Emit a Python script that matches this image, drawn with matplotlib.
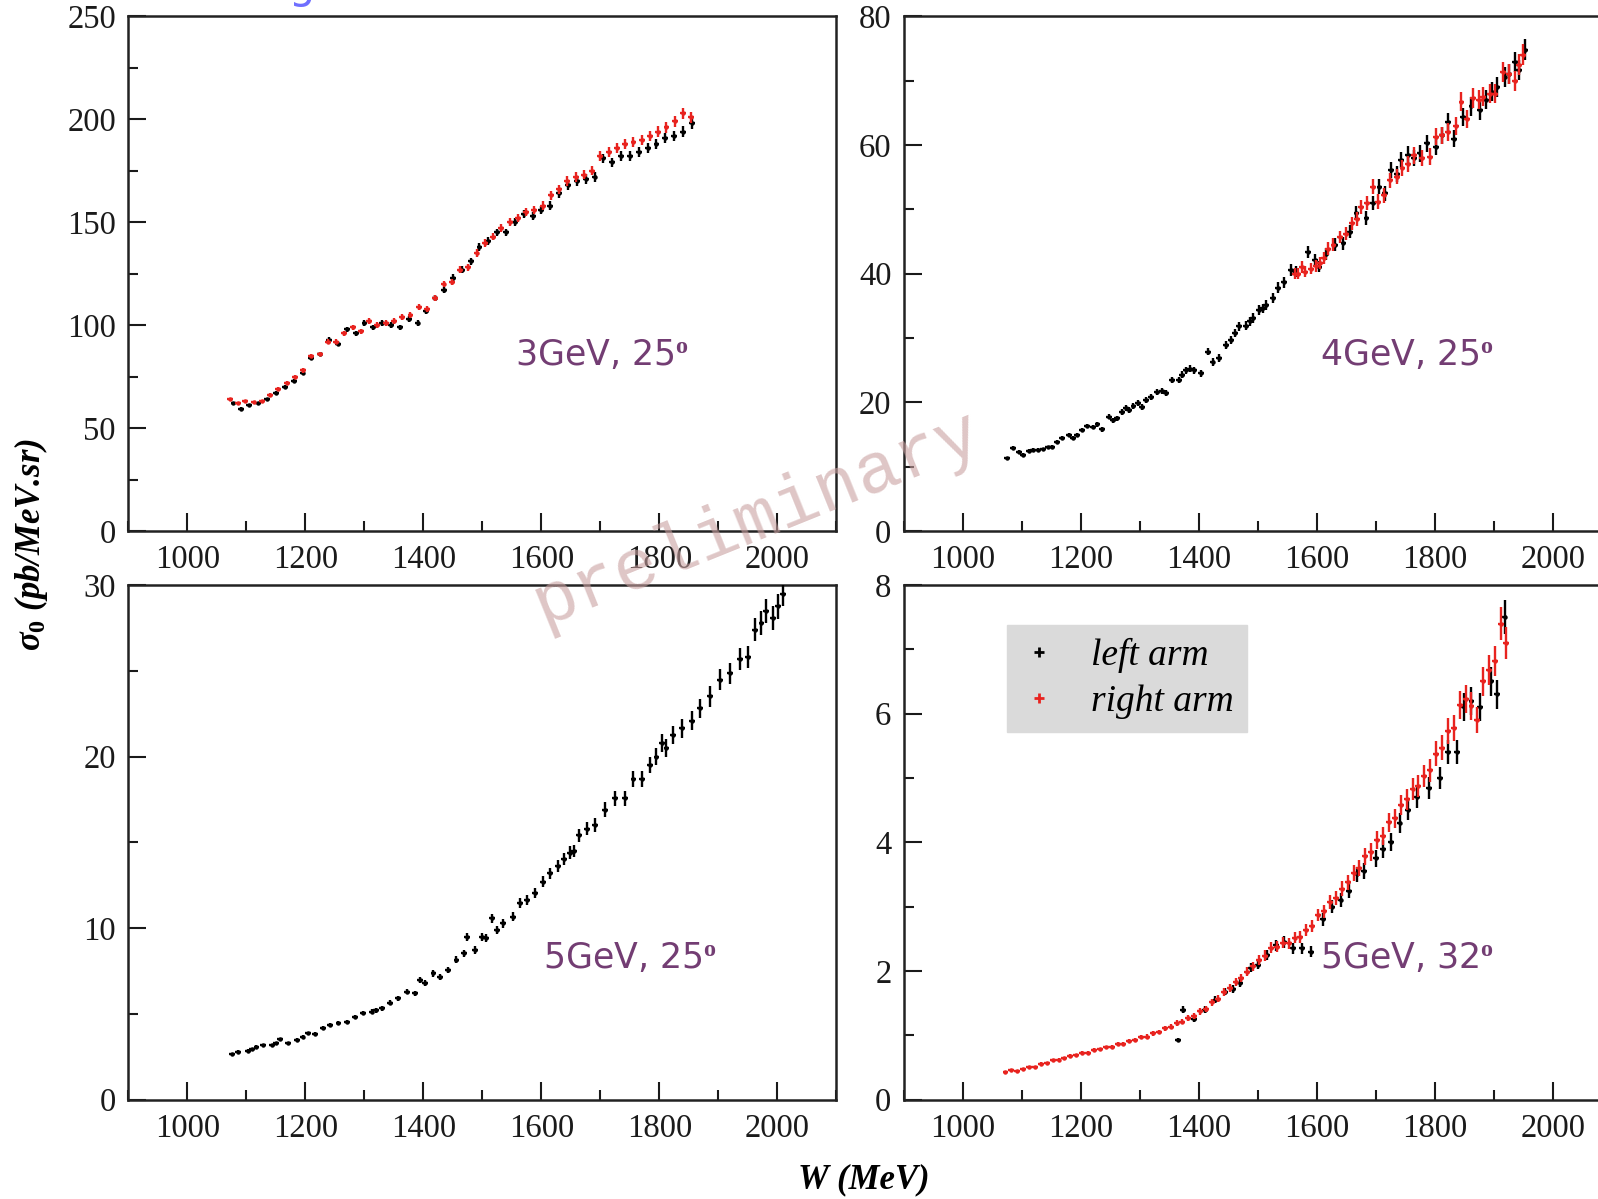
import matplotlib
matplotlib.use("Agg")
import matplotlib.pyplot as plt
from matplotlib.lines import Line2D
from matplotlib.ticker import MultipleLocator

plt.rcParams['font.family'] = ['Liberation Serif', 'DejaVu Serif']
plt.rcParams['mathtext.fontset'] = 'custom'
plt.rcParams['mathtext.it'] = 'Liberation Serif:italic:bold'
plt.rcParams['mathtext.rm'] = 'Liberation Serif:bold'

# ---- 3 GeV, 25 deg ----
a_left_w = [1078, 1090, 1105, 1120, 1135, 1150, 1165, 1180, 1195, 1210, 1225, 1240, 1255, 1270,
            1285, 1300, 1315, 1330, 1345, 1360, 1375, 1390, 1405, 1420, 1435, 1450, 1465, 1480,
            1495, 1510, 1525, 1540, 1555, 1570, 1585, 1600, 1615, 1630, 1645, 1660, 1675, 1690,
            1705, 1720, 1735, 1750, 1765, 1780, 1795, 1810, 1825, 1840, 1855]
a_left_y = [62, 59.5, 61, 62, 64, 67, 70, 73, 77, 84, 86, 93, 91, 98, 96, 101, 99, 101, 100, 99,
            103, 101, 107, 113, 117, 123, 127, 131, 138, 141, 145, 145, 150, 154, 153, 156, 158,
            164, 168, 170, 171, 172, 181, 179, 182, 182, 184, 186, 188, 191, 192, 194, 198]
a_right_w = [1072, 1085, 1098, 1112, 1126, 1140, 1154, 1168, 1182, 1196, 1210, 1224, 1238, 1252,
             1266, 1280, 1294, 1308, 1322, 1336, 1350, 1364, 1378, 1392, 1406, 1420, 1434, 1448,
             1462, 1476, 1490, 1504, 1518, 1532, 1546, 1560, 1574, 1588, 1602, 1616, 1630, 1644,
             1658, 1672, 1686, 1700, 1714, 1728, 1742, 1756, 1770, 1784, 1798, 1812, 1826, 1840, 1854]
a_right_y = [64, 62, 63, 62.5, 63, 66, 69, 72, 75, 78, 85, 86, 92, 92, 96, 99, 97, 102, 100, 101,
             102, 104, 105, 109, 108, 113, 120, 121, 127, 128, 135, 140, 143, 147, 150, 152, 155,
             156, 158, 163, 166, 170, 172, 173, 175, 182, 184, 186, 188, 189, 190, 192, 194, 196,
             199, 203, 201]

# ---- 4 GeV, 25 deg ----
b_left_w = [1074, 1085, 1095, 1102, 1112, 1119, 1128, 1136, 1144, 1151, 1160, 1168, 1179, 1186,
            1193, 1202, 1210, 1221, 1228, 1236, 1247, 1254, 1261, 1269, 1276, 1282, 1289, 1297,
            1304, 1311, 1318, 1329, 1337, 1344, 1355, 1366, 1372, 1378, 1385, 1391, 1403, 1415,
            1423, 1434, 1446, 1454, 1461, 1468, 1480, 1486, 1491, 1502, 1508, 1514, 1525, 1534,
            1544, 1556, 1565, 1585, 1596, 1604, 1615, 1630, 1645, 1656, 1667, 1684, 1695, 1706,
            1716, 1726, 1735, 1743, 1755, 1765, 1774, 1786, 1802, 1812, 1822, 1833, 1848, 1862,
            1876, 1886, 1896, 1905, 1918, 1925, 1935, 1943, 1952]
b_left_y = [11.3, 12.9, 12.3, 11.8, 12.4, 12.6, 12.6, 12.7, 13.0, 13.1, 13.9, 14.4, 14.9, 14.5,
            14.9, 15.7, 16.3, 16.2, 16.6, 15.8, 17.8, 17.2, 17.5, 18.5, 19.1, 18.8, 19.4, 19.9,
            19.3, 20.4, 20.9, 21.6, 21.8, 21.5, 23.5, 23.5, 24.3, 25.0, 25.2, 25.0, 24.5, 27.9,
            26.3, 26.9, 28.9, 29.7, 30.8, 31.8, 31.9, 32.6, 33.1, 34.3, 34.6, 35.1, 36.2, 37.8,
            38.7, 40.6, 40.3, 43.4, 42.1, 41.1, 43.0, 44.5, 44.7, 46.5, 49.4, 48.6, 51.0, 53.5,
            52.5, 56.1, 55.5, 57.7, 58.5, 58.0, 58.7, 60.3, 59.7, 61.5, 63.6, 61.0, 64.4, 66.0,
            65.4, 67.0, 68.3, 69.0, 70.5, 71.0, 72.9, 71.6, 74.8]
b_right_w = [1562, 1568, 1575, 1580, 1590, 1598, 1605, 1612, 1619, 1628, 1639, 1650, 1659, 1668,
             1675, 1685, 1695, 1704, 1714, 1724, 1735, 1745, 1754, 1765, 1778, 1791, 1802, 1812,
             1822, 1835, 1845, 1854, 1865, 1874, 1882, 1893, 1902, 1916, 1926, 1935, 1943, 1950]
b_right_y = [40.0, 40.0, 41.0, 40.3, 40.8, 41.2, 41.6, 42.5, 43.9, 44.5, 45.7, 46.2, 47.8, 48.5,
             50.4, 51.0, 53.5, 51.2, 52.2, 54.5, 55.1, 56.5, 57.1, 58.4, 58.0, 58.2, 61.3, 61.5,
             62.0, 63.0, 66.7, 64.1, 67.3, 67.0, 67.5, 68.0, 68.0, 71.4, 71.1, 70.0, 72.5, 74.0]

# ---- 5 GeV, 25 deg (left arm only) ----
c_left_w = [1075, 1086, 1103, 1110, 1117, 1128, 1143, 1150, 1157, 1171, 1185, 1195, 1205, 1216,
            1230, 1241, 1256, 1270, 1284, 1298, 1312, 1320, 1329, 1343, 1357, 1372, 1386, 1394,
            1403, 1417, 1428, 1442, 1456, 1468, 1474, 1487, 1499, 1506, 1516, 1524, 1535, 1552,
            1564, 1575, 1589, 1603, 1614, 1628, 1638, 1648, 1655, 1663, 1677, 1691, 1708, 1725,
            1742, 1756, 1770, 1784, 1795, 1804, 1812, 1823, 1838, 1855, 1869, 1886, 1903, 1919,
            1936, 1950, 1962, 1973, 1981, 1993, 2001, 2010]
c_left_y = [2.66, 2.80, 2.85, 2.95, 3.08, 3.18, 3.18, 3.30, 3.52, 3.28, 3.48, 3.65, 3.87, 3.85,
            4.16, 4.35, 4.45, 4.55, 4.80, 5.03, 5.13, 5.20, 5.32, 5.65, 5.90, 6.30, 6.20, 6.97,
            6.78, 7.36, 7.16, 7.55, 8.14, 8.53, 9.50, 8.72, 9.50, 9.40, 10.57, 9.90, 10.28, 10.66,
            11.45, 11.64, 12.03, 12.70, 13.20, 13.60, 14.00, 14.40, 14.50, 15.40, 15.80, 16.00,
            16.90, 17.56, 17.56, 18.70, 18.70, 19.50, 20.00, 20.78, 20.50, 21.26, 21.65, 22.10,
            22.80, 23.50, 24.47, 24.86, 25.70, 25.80, 27.40, 27.80, 28.50, 28.10, 28.75, 29.50]

# ---- 5 GeV, 32 deg ----
d_left_w = [1364, 1373, 1392, 1410, 1428, 1445, 1458, 1470, 1488, 1500, 1515, 1530, 1545, 1560,
            1575, 1590, 1610, 1625, 1640, 1655, 1668, 1680, 1700, 1712, 1725, 1740, 1755, 1770,
            1790, 1808, 1822, 1838, 1850, 1862, 1876, 1895, 1905, 1918]
d_left_y = [0.93, 1.40, 1.25, 1.40, 1.55, 1.68, 1.72, 1.82, 2.05, 2.10, 2.25, 2.40, 2.45, 2.35,
            2.35, 2.30, 2.80, 3.00, 3.10, 3.25, 3.50, 3.55, 3.75, 3.90, 4.00, 4.30, 4.50, 4.70,
            4.85, 5.00, 5.40, 5.40, 6.10, 6.20, 6.10, 6.50, 6.30, 7.50]
d_right_w = [1072, 1082, 1092, 1102, 1112, 1122, 1132, 1142, 1152, 1162, 1172, 1182, 1192, 1202,
             1212, 1222, 1232, 1242, 1252, 1262, 1272, 1282, 1292, 1302, 1312, 1322, 1332, 1342,
             1352, 1362, 1372, 1382, 1392, 1402, 1412, 1422, 1432, 1442, 1452, 1462, 1472, 1482,
             1492, 1502, 1512, 1522, 1532, 1542, 1552, 1562, 1572, 1582, 1592, 1602, 1612, 1622,
             1632, 1642, 1652, 1662, 1672, 1682, 1692, 1702, 1712, 1722, 1732, 1742, 1752, 1762,
             1772, 1782, 1792, 1802, 1812, 1822, 1832, 1842, 1852, 1862, 1872, 1882, 1892, 1902,
             1912, 1920]
d_right_y = [0.43, 0.46, 0.45, 0.48, 0.50, 0.51, 0.56, 0.57, 0.61, 0.62, 0.64, 0.68, 0.69, 0.73,
             0.73, 0.77, 0.78, 0.81, 0.82, 0.86, 0.87, 0.91, 0.92, 0.97, 0.98, 1.03, 1.05, 1.11,
             1.13, 1.19, 1.21, 1.27, 1.30, 1.37, 1.41, 1.51, 1.57, 1.67, 1.73, 1.83, 1.89, 1.99,
             2.07, 2.17, 2.24, 2.36, 2.38, 2.44, 2.43, 2.52, 2.53, 2.64, 2.70, 2.87, 2.93, 3.07,
             3.13, 3.28, 3.38, 3.52, 3.60, 3.78, 3.85, 4.03, 4.10, 4.31, 4.37, 4.58, 4.67, 4.83,
             4.88, 5.03, 5.12, 5.38, 5.47, 5.73, 5.78, 6.13, 6.22, 6.12, 5.90, 6.50, 6.68, 6.82,
             7.40, 7.10]

panels = [
    # (left_w, left_y, right_w, right_y, ymax, ymajor, yminor, rel_err, label)
    (a_left_w, a_left_y, a_right_w, a_right_y, 250, 50, 25, 0.013, '3GeV, 25$^{\\mathrm{o}}$'),
    (b_left_w, b_left_y, b_right_w, b_right_y, 80, 20, 10, 0.022, '4GeV, 25$^{\\mathrm{o}}$'),
    (c_left_w, c_left_y, [], [], 30, 10, 5, 0.025, '5GeV, 25$^{\\mathrm{o}}$'),
    (d_left_w, d_left_y, d_right_w, d_right_y, 8, 2, 1, 0.035, '5GeV, 32$^{\\mathrm{o}}$'),
]

fig = plt.figure(figsize=(15.98, 11.99), dpi=100)
positions = [
    [0.0804, 0.5571, 0.443, 0.4293],
    [0.5657, 0.5571, 0.443, 0.4293],
    [0.0804, 0.0829, 0.443, 0.4292],
    [0.5657, 0.0829, 0.443, 0.4292],
]
label_pos = [(0.669, 0.342), (0.711, 0.342), (0.708, 0.275), (0.711, 0.275)]

for i, (lw_, ly_, rw_, ry_, ymax, ymaj, ymin, rel, label) in enumerate(panels):
    ax = fig.add_axes(positions[i])
    ax.errorbar(lw_, ly_, xerr=5, yerr=[rel * v for v in ly_], fmt='o', color='black',
                markersize=2.2, elinewidth=1.7, capsize=0, zorder=3)
    if rw_:
        ax.errorbar(rw_, ry_, xerr=5, yerr=[rel * v for v in ry_], fmt='o', color='#e8231f',
                    markersize=2.2, elinewidth=1.7, capsize=0, zorder=4)
    ax.set_xlim(900, 2100)
    ax.set_ylim(0, ymax)
    ax.xaxis.set_major_locator(MultipleLocator(200))
    ax.xaxis.set_minor_locator(MultipleLocator(100))
    ax.yaxis.set_major_locator(MultipleLocator(ymaj))
    ax.yaxis.set_minor_locator(MultipleLocator(ymin))
    ax.set_xticks([1000, 1200, 1400, 1600, 1800, 2000])
    ax.tick_params(which='both', direction='in', top=False, right=False, labelsize=23.5,
                   width=1.5, colors='#1a1a1a')
    ax.tick_params(which='major', length=13)
    ax.tick_params(which='minor', length=7)
    ax.tick_params(axis='y', pad=9)
    ax.tick_params(axis='x', pad=10)
    for s in ax.spines.values():
        s.set_linewidth(1.8)
        s.set_color('#222222')
    ax.text(label_pos[i][0], label_pos[i][1], label, transform=ax.transAxes, ha='center',
            va='center', fontsize=25, color='#733d73', family='DejaVu Sans')
    if i == 3:
        handles = [Line2D([], [], color='black', marker='+', ls='none', markersize=7, mew=2),
                   Line2D([], [], color='#e8231f', marker='+', ls='none', markersize=7, mew=2)]
        leg = ax.legend(handles, ['left arm', 'right arm'], loc='upper left',
                        bbox_to_anchor=(0.145, 0.922), borderaxespad=0, frameon=True,
                        fancybox=False, facecolor='#dadada', edgecolor='#dadada', framealpha=1,
                        prop={'family': 'Liberation Serif', 'style': 'italic', 'size': 27},
                        handletextpad=0.9, borderpad=0.35, labelspacing=0.3, handlelength=1.0)

fig.text(0.0194, 0.5455, r'$\sigma_0$ (pb/MeV.sr)', rotation=90, ha='center', va='center',
         fontsize=25, fontweight='bold', style='italic')
fig.text(0.5407, 0.0158, 'W (MeV)', ha='center', va='center', fontsize=25,
         fontweight='bold', style='italic')
fig.text(0.474, 0.568, 'preliminary', rotation=22, ha='center', va='center', fontsize=52,
         family='Liberation Mono', color='#c9a0a0', alpha=0.6, zorder=10)
fig.text(0.189, 1.002, 'g', ha='center', va='baseline', fontsize=30, color='#6f6fff',
         family='DejaVu Sans')

fig.savefig('out.png', dpi=100)
